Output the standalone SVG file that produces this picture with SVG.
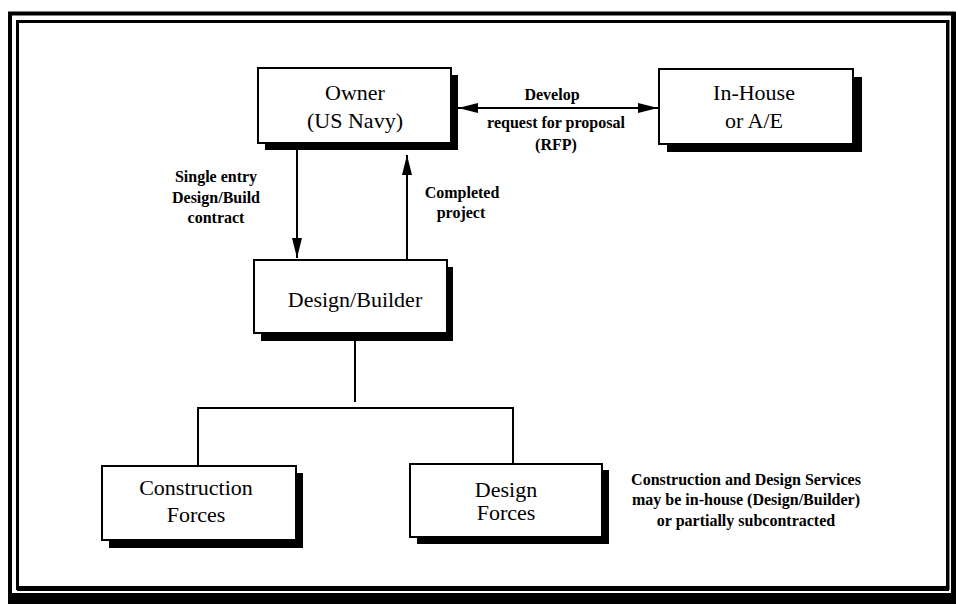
<svg xmlns="http://www.w3.org/2000/svg" width="956" height="604" viewBox="0 0 956 604">
<style>
.box{fill:#fff;stroke:#000;stroke-width:2}
.shadow{fill:#000}
.node{font-family:"Liberation Serif","Times New Roman",serif;font-size:22px;fill:#000;text-anchor:middle}
.lbl{font-family:"Liberation Serif","Times New Roman",serif;font-size:16px;font-weight:bold;fill:#000;text-anchor:middle}
.ln{stroke:#000;stroke-width:2;fill:none}
</style>
<defs>
<marker id="ah" markerUnits="userSpaceOnUse" markerWidth="20" markerHeight="10" refX="20" refY="5" orient="auto-start-reverse" viewBox="0 0 20 10">
<path d="M0,0 L20,5 L0,10 z" fill="#000"/>
</marker>
</defs>
<rect width="956" height="604" fill="#fff"/>
<g id="frame">
<path d="M10,604 V13.5 H953.5 V604" fill="none" stroke="#000" stroke-width="4"/>
<rect x="8" y="593" width="948" height="11" fill="#000"/>
<rect x="951" y="12" width="5" height="592" fill="#000"/>
<rect x="17.5" y="21.5" width="930" height="567" fill="none" stroke="#000" stroke-width="3"/>
<rect x="17" y="586" width="932" height="5" fill="#000"/>
<rect x="946" y="20" width="3.5" height="570" fill="#000"/>
</g>
<g id="connectors">
<line class="ln" x1="297" y1="150" x2="297" y2="258" marker-end="url(#ah)"/>
<line class="ln" x1="407" y1="260" x2="407" y2="155" marker-end="url(#ah)"/>
<line class="ln" x1="458" y1="108" x2="658" y2="108" marker-start="url(#ah)" marker-end="url(#ah)"/>
<line class="ln" x1="355" y1="341" x2="355" y2="402"/>
<polyline class="ln" points="198,466 198,408 513,408 513,464"/>
</g>
<g id="owner">
<rect class="shadow" x="265" y="75" width="193" height="75"/>
<rect class="box" x="258" y="68" width="193" height="75"/>
<text class="node" x="355" y="100">Owner</text>
<text class="node" x="355" y="128">(US Navy)</text>
</g>
<g id="inhouse">
<rect class="shadow" x="667" y="77" width="195" height="75"/>
<rect class="box" x="659" y="69" width="194" height="75"/>
<text class="node" x="754" y="100">In-House</text>
<text class="node" x="754" y="128">or A/E</text>
</g>
<g id="designbuilder">
<rect class="shadow" x="261" y="267" width="192" height="74"/>
<rect class="box" x="254" y="260" width="193" height="73"/>
<text class="node" x="355" y="307">Design/Builder</text>
</g>
<g id="construction">
<rect class="shadow" x="109" y="473" width="194" height="75"/>
<rect class="box" x="102" y="466" width="194" height="74"/>
<text class="node" x="196" y="495" font-size="21">Construction</text>
<text class="node" x="196" y="522" font-size="21">Forces</text>
</g>
<g id="designforces">
<rect class="shadow" x="417" y="470" width="192" height="74"/>
<rect class="box" x="410" y="464" width="192" height="73"/>
<text class="node" x="506" y="497" font-size="21">Design</text>
<text class="node" x="506" y="520" font-size="21">Forces</text>
</g>
<g id="labels">
<text class="lbl" x="216" y="182">Single entry</text>
<text class="lbl" x="216" y="203">Design/Build</text>
<text class="lbl" x="216" y="223">contract</text>
<text class="lbl" x="462" y="198">Completed</text>
<text class="lbl" x="461" y="218">project</text>
<text class="lbl" x="552" y="100">Develop</text>
<text class="lbl" x="556" y="128">request for proposal</text>
<text class="lbl" x="556" y="150">(RFP)</text>
<text class="lbl" x="746" y="485">Construction and Design Services</text>
<text class="lbl" x="746" y="505">may be in-house (Design/Builder)</text>
<text class="lbl" x="746" y="526">or partially subcontracted</text>
</g>
</svg>
